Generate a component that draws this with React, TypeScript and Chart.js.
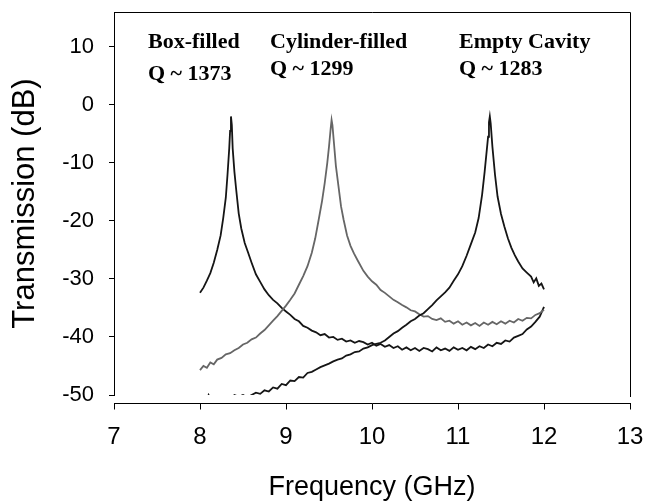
import React, { useEffect, useRef } from 'react';
import { Chart, registerables } from 'chart.js';
Chart.register(...registerables);

const xTicks = [7, 8, 9, 10, 11, 12, 13];
const yTicks = [-50, -40, -30, -20, -10, 0, 10];
const xTitle = 'Frequency (GHz)';
const yTitle = 'Transmission (dB)';
const annotations = [
  ['Box-filled', 'Q ~ 1373'],
  ['Cylinder-filled', 'Q ~ 1299'],
  ['Empty Cavity', 'Q ~ 1283'],
];

const boxFreq = [
  8.00, 8.04, 8.08, 8.12, 8.16, 8.20, 8.24, 8.27, 8.30, 8.32,
  8.34, 8.35, 8.36, 8.37, 8.38, 8.40, 8.42, 8.45, 8.48, 8.52,
  8.56, 8.60, 8.65, 8.70, 8.75, 8.80, 8.85, 8.90, 8.95, 9.00,
  9.05, 9.10, 9.15, 9.20, 9.25, 9.30, 9.35, 9.40, 9.45, 9.50,
  9.55, 9.60, 9.65, 9.70, 9.75, 9.80, 9.85, 9.90, 9.95, 10.00,
  10.05, 10.10, 10.15, 10.20, 10.25, 10.30, 10.35, 10.40, 10.45, 10.50,
  10.55, 10.60, 10.65, 10.70, 10.75, 10.80, 10.85, 10.90, 10.95, 11.00,
  11.05, 11.10, 11.15, 11.20, 11.25, 11.30, 11.35, 11.40, 11.45, 11.50,
  11.55, 11.60, 11.65, 11.70, 11.75, 11.80, 11.85, 11.90, 11.95, 12.00,
];
const boxDb = [
  -32.4, -31.5, -30.3, -29.0, -27.2, -25.0, -22.5, -19.5, -16.0, -12.0,
  -7.5, -4.5, -2.0, -3.5, -7.5, -11.5, -14.5, -18.7, -21.3, -23.8,
  -25.5, -27.2, -29.2, -30.5, -31.8, -32.8, -33.6, -34.2, -35.0, -35.6,
  -36.2, -36.9, -37.3, -38.1, -38.4, -38.9, -39.2, -39.7, -39.5, -40.1,
  -40.0, -40.5, -40.3, -40.8, -40.6, -41.0, -40.7, -40.9, -41.3, -41.0,
  -41.5, -41.2, -41.7, -41.4, -41.9, -41.6, -42.2, -41.8, -42.3, -41.9,
  -42.4, -41.9, -42.1, -42.5, -41.8, -42.3, -42.0, -42.4, -41.8, -42.2,
  -41.9, -42.3, -41.7, -42.1, -41.6, -41.9, -41.3, -41.6, -41.0, -41.2,
  -40.6, -40.8, -40.1, -39.8, -39.5, -38.7, -38.2, -37.4, -36.5, -34.8,
];

const cylFreq = [
  8.00, 8.04, 8.08, 8.12, 8.16, 8.20, 8.25, 8.30, 8.35, 8.40,
  8.45, 8.50, 8.55, 8.60, 8.65, 8.70, 8.75, 8.80, 8.85, 8.90,
  8.95, 9.00, 9.05, 9.10, 9.15, 9.20, 9.25, 9.30, 9.34, 9.38,
  9.42, 9.45, 9.48, 9.50, 9.52, 9.53, 9.54, 9.56, 9.58, 9.61,
  9.64, 9.67, 9.71, 9.75, 9.79, 9.84, 9.90, 9.95, 10.00, 10.05,
  10.10, 10.15, 10.20, 10.25, 10.30, 10.35, 10.40, 10.45, 10.50, 10.55,
  10.60, 10.65, 10.70, 10.75, 10.80, 10.85, 10.90, 10.95, 11.00, 11.05,
  11.10, 11.15, 11.20, 11.25, 11.30, 11.35, 11.40, 11.45, 11.50, 11.55,
  11.60, 11.65, 11.70, 11.75, 11.80, 11.85, 11.90, 11.95, 12.00,
];
const cylDb = [
  -45.7, -45.0, -45.3, -44.4, -44.7, -43.9, -43.6, -43.0, -42.8, -42.3,
  -41.9, -41.3, -41.0, -40.4, -40.1, -39.4, -38.8, -38.0, -37.2, -36.4,
  -35.5, -34.6, -33.6, -32.5, -31.0, -29.5, -27.8, -25.5, -23.0, -19.8,
  -16.5, -13.5, -10.0, -7.2, -4.0, -2.6, -3.5, -7.0, -10.5, -14.0,
  -17.5, -19.8, -22.5, -24.3, -25.6, -27.0, -28.6, -29.6, -30.4, -31.0,
  -31.9, -32.4, -33.0, -33.6, -34.0, -34.5, -34.9, -35.4, -35.6, -36.1,
  -36.5, -36.4, -36.9, -37.1, -36.8, -37.4, -37.2, -37.7, -37.3, -37.9,
  -37.5, -38.0, -37.6, -38.1, -37.5, -37.9, -37.4, -37.8, -37.3, -37.7,
  -37.2, -37.5, -36.9, -37.2, -36.7, -36.8, -36.2, -35.9, -35.3,
];

const emptyFreq = [
  8.00, 8.05, 8.10, 8.15, 8.20, 8.25, 8.30, 8.35, 8.40, 8.45,
  8.50, 8.55, 8.60, 8.65, 8.70, 8.75, 8.80, 8.85, 8.90, 8.95,
  9.00, 9.05, 9.10, 9.15, 9.20, 9.25, 9.30, 9.35, 9.40, 9.45,
  9.50, 9.55, 9.60, 9.65, 9.70, 9.75, 9.80, 9.85, 9.90, 9.95,
  10.00, 10.05, 10.10, 10.15, 10.20, 10.25, 10.30, 10.35, 10.40, 10.45,
  10.50, 10.55, 10.60, 10.65, 10.70, 10.75, 10.80, 10.85, 10.90, 10.95,
  11.00, 11.05, 11.10, 11.15, 11.20, 11.24, 11.28, 11.31, 11.33, 11.35,
  11.36, 11.37, 11.38, 11.40, 11.43, 11.46, 11.50, 11.54, 11.58, 11.62,
  11.66, 11.70, 11.75, 11.80, 11.85, 11.88, 11.91, 11.94, 11.97, 12.00,
];
const emptyDb = [
  -52.5, -52.0, -50.0, -51.5, -51.8, -51.2, -51.6, -51.0, -50.0, -50.3,
  -50.0, -50.4, -50.0, -49.6, -49.8, -49.2, -49.4, -48.7, -48.9, -48.1,
  -48.3, -47.5, -47.6, -46.9, -47.0, -46.2, -46.0, -45.6, -45.2, -44.9,
  -44.6, -44.2, -43.9, -43.7, -43.2, -43.0, -42.6, -42.5, -42.0, -41.8,
  -41.4, -41.2, -41.0, -40.6, -40.0, -39.4, -39.0, -38.4, -37.9, -37.3,
  -36.9, -36.3, -35.9, -35.2, -34.5, -33.7, -33.0, -32.3, -31.5, -30.3,
  -29.2, -27.8, -26.0, -24.0, -22.0, -19.5, -15.5, -11.5, -8.5, -5.5,
  -3.0, -2.0, -3.2, -7.2, -12.0, -15.8, -18.8, -21.0, -23.0, -24.6,
  -25.9, -27.0, -28.2, -28.9, -29.6, -30.6, -29.9, -31.2, -30.8, -31.8,
];

const pts = (xs: number[], ys: number[]) => xs.map((x, i) => ({ x, y: ys[i] }));

const framePlugin = {
  id: 'frame',
  afterDraw(chart: any) {
    const { ctx, chartArea, scales } = chart;
    const xs = scales.x;
    ctx.save();
    ctx.strokeStyle = '#000';
    ctx.lineWidth = 1;
    ctx.beginPath();
    // top and right borders
    ctx.moveTo(chartArea.left, chartArea.top + 0.5);
    ctx.lineTo(chartArea.right + 0.5, chartArea.top + 0.5);
    ctx.lineTo(chartArea.right + 0.5, chartArea.bottom + 2);
    // detached x axis
    const axY = chartArea.bottom + 8.5;
    ctx.moveTo(xs.getPixelForValue(xTicks[0]), axY);
    ctx.lineTo(xs.getPixelForValue(xTicks[xTicks.length - 1]) + 1, axY);
    xTicks.forEach((t) => {
      const px = Math.round(xs.getPixelForValue(t)) + 0.5;
      ctx.moveTo(px, axY);
      ctx.lineTo(px, axY + 6);
    });
    ctx.stroke();
    // annotations
    ctx.fillStyle = '#000';
    ctx.font = 'bold 22px "Liberation Serif"';
    ctx.textBaseline = 'alphabetic';
    const xsAnn = [148, 270, 459];
    const y2 = [80, 75, 75];
    annotations.forEach((lines, i) => {
      ctx.fillText(lines[0], xsAnn[i], 48);
      ctx.fillText(lines[1], xsAnn[i], y2[i]);
    });
    ctx.restore();
  },
};

export default function App() {
  const ref = useRef<HTMLCanvasElement>(null);
  useEffect(() => {
    document.body.style.margin = '0';
    const canvas = ref.current!;
    const chart = new Chart(canvas, {
      type: 'line',
      data: {
        datasets: [
          { label: 'Empty Cavity', data: pts(emptyFreq, emptyDb), borderColor: '#151515', borderWidth: 1.8 },
          { label: 'Cylinder-filled', data: pts(cylFreq, cylDb), borderColor: '#666666', borderWidth: 1.8 },
          { label: 'Box-filled', data: pts(boxFreq, boxDb), borderColor: '#151515', borderWidth: 1.8 },
        ],
      },
      options: {
        responsive: false,
        animation: false,
        devicePixelRatio: 1,
        layout: { padding: { top: 12, right: 16, left: 0, bottom: 0 } },
        elements: { point: { radius: 0 }, line: { tension: 0 } },
        plugins: { legend: { display: false }, tooltip: { enabled: false } },
        scales: {
          x: {
            type: 'linear',
            min: 7,
            max: 13,
            afterBuildTicks: (s: any) => { s.ticks = xTicks.map((v) => ({ value: v })); },
            afterFit: (s: any) => { s.height = 107; s.paddingLeft = 0; s.paddingRight = 0; },
            grid: { display: false, drawTicks: false },
            border: { display: false },
            ticks: { color: '#000', padding: 28, font: { family: '"Liberation Sans"', size: 24 }, maxRotation: 0 },
            title: { display: true, text: xTitle, color: '#000', font: { family: '"Liberation Sans"', size: 27 }, padding: { top: 0, bottom: -2 } },
          },
          y: {
            type: 'linear',
            min: -50,
            max: 16,
            afterBuildTicks: (s: any) => { s.ticks = yTicks.map((v) => ({ value: v })); },
            afterFit: (s: any) => { s.width = 114; s.paddingTop = 0; s.paddingBottom = 0; },
            grid: { drawOnChartArea: false, drawTicks: true, tickLength: 5, color: '#000' },
            border: { display: true, color: '#000', width: 1 },
            ticks: { color: '#000', padding: 15, font: { family: '"Liberation Sans"', size: 22 } },
            title: { display: true, text: yTitle, color: '#000', font: { family: '"Liberation Sans"', size: 31 }, padding: { top: 7, bottom: 0 } },
          },
        },
      },
      plugins: [framePlugin],
    });
    return () => chart.destroy();
  }, []);
  return (
    <div style={{ width: 646, height: 502, background: '#fff' }}>
      <canvas ref={ref} width={646} height={502} style={{ display: 'block' }} />
    </div>
  );
}
